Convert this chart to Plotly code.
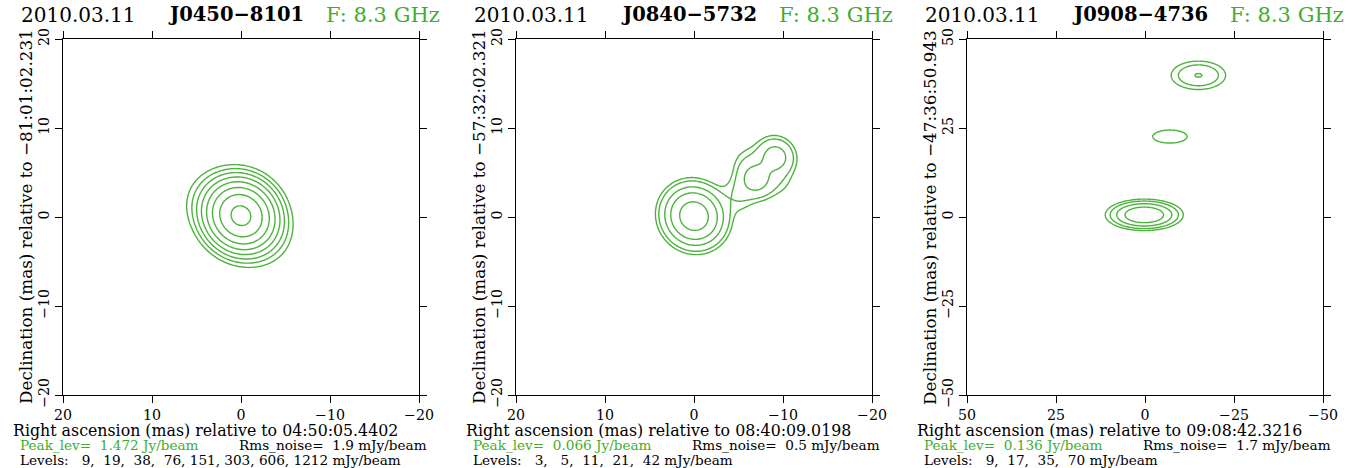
import numpy as np
import plotly.graph_objects as go

# ---------------- data ----------------
obs_dates = ["2010.03.11", "2010.03.11", "2010.03.11"]
sources = ["J0450\u22128101", "J0840\u22125732", "J0908\u22124736"]
freq_labels = ["F: 8.3 GHz", "F: 8.3 GHz", "F: 8.3 GHz"]
ra_refs = ["04:50:05.4402", "08:40:09.0198", "09:08:42.3216"]
dec_refs = ["\u221281:01:02.231", "\u221257:32:02.321", "\u221247:36:50.943"]
peak_jy = ["1.472", "0.066", "0.136"]
rms_mjy = ["1.9", "0.5", "1.7"]
levels_p1 = [9, 19, 38, 76, 151, 303, 606, 1212]
levels_p2 = [3, 5, 11, 21, 42]
levels_p3 = [9, 17, 35, 70]
axis_half = [20, 20, 50]
tick_step = [10, 10, 25]

# model components (RA mas, Dec mas, peak mJy/beam, sigma major, sigma minor, angle deg)
p1_ra = [0.0, 3.0, -2.5]
p1_dec = [0.15, 1.8, -2.2]
p1_peak = [1462, 18, 14]
p1_smaj = [1.85, 2.0, 2.0]
p1_smin = [1.70, 2.0, 2.0]
p1_ang = [45, 0, 0]

p2_ra = [0.0, -9.2, -6.9, -5.8, -9.8, -4.6, -5.2]
p2_dec = [0.1, 6.8, 4.2, 6.6, 3.8, 2.9, 1.6]
p2_peak = [64, 15.5, 15.5, 2.5, 2.5, 2.4, 2.4]
p2_smaj = [1.8, 1.35, 1.35, 1.3, 1.2, 1.2, 1.1]
p2_smin = [1.7, 1.25, 1.25, 1.3, 1.2, 1.0, 1.1]
p2_ang = [45, 45, 45, 0, 0, 30, 0]

p3_ra = [0.2, -7.0, -15.0]
p3_dec = [0.6, 22.6, 39.8]
p3_peak = [136, 16, 35.8]
p3_smaj = [4.7, 4.5, 4.6]
p3_smin = [1.9, 1.7, 2.4]
p3_ang = [0, 0, 0]

# grids (mas)
grid_x = [(-10, 10, 0.125), (-15, 8, 0.125), (-30, 20, 0.25)]
grid_y = [(-10, 10, 0.125), (-8, 14, 0.125), (-10, 50, 0.25)]

GREEN_LINE = "#4db33d"
GREEN_TEXT = "#3fae2c"
FONT = "DejaVu Serif"

W, H = 1370, 468
panel_left = [63, 516, 967]
panel_w = 356
top_px, bot_px = 39, 395


def model_image(xs, ys, ra, dec, peak, smaj, smin, ang):
    X, Y = np.meshgrid(xs, ys)
    Z = np.zeros_like(X)
    for r, d, p, a, b, t in zip(ra, dec, peak, smaj, smin, ang):
        th = np.deg2rad(t)
        dx, dy = X - r, Y - d
        u = dx * np.cos(th) + dy * np.sin(th)
        v = -dx * np.sin(th) + dy * np.cos(th)
        Z += p * np.exp(-0.5 * ((u / a) ** 2 + (v / b) ** 2))
    return Z


comps = [
    (p1_ra, p1_dec, p1_peak, p1_smaj, p1_smin, p1_ang),
    (p2_ra, p2_dec, p2_peak, p2_smaj, p2_smin, p2_ang),
    (p3_ra, p3_dec, p3_peak, p3_smaj, p3_smin, p3_ang),
]
all_levels = [levels_p1, levels_p2, levels_p3]

fig = go.Figure()
annotations = []


def px_x(p):
    return p / W


def px_y(p):
    return 1 - p / H


def nb(s):
    return s.replace(" ", "\u00a0")


for i in range(3):
    ax = "" if i == 0 else str(i + 1)
    gx0, gx1, gs = grid_x[i]
    gy0, gy1, gsy = grid_y[i]
    xs = np.arange(gx0, gx1 + gs / 2, gs)
    ys = np.arange(gy0, gy1 + gsy / 2, gsy)
    Z = model_image(xs, ys, *comps[i]).astype(np.float32)
    for lev in all_levels[i]:
        fig.add_trace(go.Contour(
            x=xs, y=ys, z=Z,
            contours=dict(start=lev, end=lev, size=1e6, coloring="none"),
            line=dict(color=GREEN_LINE, width=1.4, smoothing=1),
            showscale=False, hoverinfo="skip",
            xaxis="x" + ax, yaxis="y" + ax,
        ))

    L = panel_left[i]
    hlf = axis_half[i]
    axis_common = dict(
        showgrid=False, zeroline=False, showline=True, linecolor="black", linewidth=1,
        mirror="allticks", ticks="outside", ticklen=7, tickcolor="black", tickwidth=1,
        dtick=tick_step[i], tick0=0, automargin=False,
        tickfont=dict(family=FONT, size=14.2, color="black"),
    )
    fig.update_layout(**{
        "xaxis" + ax: dict(axis_common, domain=[L / W, (L + panel_w) / W],
                           range=[hlf, -hlf], anchor="y" + ax),
        "yaxis" + ax: dict(axis_common, domain=[1 - bot_px / H, 1 - top_px / H],
                           range=[-hlf, hlf], anchor="x" + ax, tickangle=-90),
    })

    annotations += [
        dict(text=obs_dates[i], x=px_x(L - 43), y=px_y(15), font=dict(family=FONT, size=20, color="black")),
        dict(text="<b>" + sources[i] + "</b>", x=px_x(L + 104), y=px_y(15), font=dict(family=FONT, size=19.5, color="black")),
        dict(text=nb(freq_labels[i]), x=px_x(L + 262), y=px_y(15), font=dict(family=FONT, size=21, color=GREEN_TEXT)),
        dict(text=nb("Right ascension (mas) relative to " + ra_refs[i]), x=px_x(L - 51), y=px_y(430),
             font=dict(family=FONT, size=15.8, color="black")),
        dict(text=nb("Peak_lev=  " + peak_jy[i] + " Jy/beam"), x=px_x(L - 44), y=px_y(445),
             font=dict(family=FONT, size=13.6, color=GREEN_TEXT)),
        dict(text=nb("Rms_noise=  " + rms_mjy[i] + " mJy/beam"), x=px_x(L + 175), y=px_y(445),
             font=dict(family=FONT, size=13.6, color="black")),
        dict(text=nb("Levels: " + ", ".join(f"{v:3d}" for v in all_levels[i]) + " mJy/beam"),
             x=px_x(L - 44), y=px_y(459.5), font=dict(family=FONT, size=13.6, color="black")),
    ]
    annotations.append(dict(text=nb("Declination (mas) relative to " + dec_refs[i]),
                            x=px_x(L - 37), y=px_y((top_px + bot_px) / 2), textangle=-90,
                            xanchor="center", yanchor="middle",
                            font=dict(family=FONT, size=16.8, color="black")))

for a in annotations:
    a.setdefault("xanchor", "left")
    a.setdefault("yanchor", "middle")
    a.update(xref="paper", yref="paper", showarrow=False, borderpad=0)

fig.update_layout(
    width=W, height=H, autosize=False,
    margin=dict(l=0, r=0, t=0, b=0, pad=0, autoexpand=False),
    paper_bgcolor="white", plot_bgcolor="white",
    showlegend=False, annotations=annotations,
)

fig.write_html("out.html", config={"displayModeBar": False},
               post_script="document.body.style.margin='0';document.body.style.overflow='hidden';")
